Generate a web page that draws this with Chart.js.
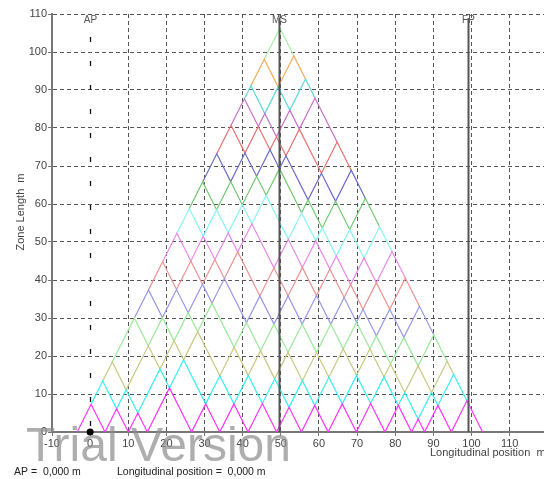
<!DOCTYPE html>
<html>
<head>
<meta charset="utf-8">
<script src="https://cdn.jsdelivr.net/npm/chart.js@4"></script>
<style>
  html, body { margin: 0; padding: 0; background: #fff; }
  #wrap { width: 544px; height: 479px; }
</style>
</head>
<body>
<div id="wrap"><canvas id="zones" width="544" height="479"></canvas></div>
<script>
var bulkheads = [-3.4, 3.9, 10.0, 15.0, 26.6, 34.0, 41.4, 48.9, 55.4, 62.4, 69.8, 77.3, 84.3, 87.7, 94.7, 102.9];
// one colour per zone layer (1 compartment, 2 compartments, ...)
var layerColors = ['#ff33ff', '#33f0f0', '#c8c880', '#99e899', '#9898e8', '#ec9090', '#e888e8', '#88f4f4',
                   '#70c870', '#6c6cc8', '#e87070', '#c870c8', '#5cd8d8', '#f8a850', '#a8eca8'];
var xTicks = [-10, 0, 10, 20, 30, 40, 50, 60, 70, 80, 90, 100, 110];
var yTicks = [0, 10, 20, 30, 40, 50, 60, 70, 80, 90, 100, 110];
var refLines = [{ label: 'AP', x: 0 }, { label: 'MS', x: 49.55 }, { label: 'FP', x: 99.1 }];

// zone between bulkhead i and j -> (centre, length)
function zonePoint(i, j) {
    return { x: (bulkheads[i] + bulkheads[j]) / 2, y: bulkheads[j] - bulkheads[i] };
}

var n = bulkheads.length - 1;
var datasets = [];
for (var k = 1; k <= n; k++) {
    var pts = [];
    for (var i = 0; i <= n - k; i++) {
        pts.push(zonePoint(i, i + k - 1));
        pts.push(zonePoint(i, i + k));
    }
    pts.push(zonePoint(n - k + 1, n));
    datasets.push({
        label: k + ' zone',
        data: pts,
        showLine: true,
        borderColor: layerColors[k - 1],
        borderWidth: 1.2,
        pointRadius: 0,
        tension: 0
    });
}

var tickFont = { family: '"Liberation Sans", Arial, sans-serif', size: 11 };

var overlay = {
    id: 'overlay',
    afterDatasetsDraw: function (chart) {
        var c = chart.ctx, a = chart.chartArea;
        var xs = chart.scales.x, ys = chart.scales.y;
        c.save();
        refLines.forEach(function (r) {
            var px = Math.round(xs.getPixelForValue(r.x)) + 0.5;
            c.beginPath();
            if (r.label === 'AP') {
                c.strokeStyle = '#111';
                c.lineWidth = 1.3;
                c.setLineDash([5, 19]);
                c.lineDashOffset = 5;
            } else {
                c.strokeStyle = '#555';
                c.lineWidth = 2;
                c.setLineDash([]);
            }
            c.moveTo(px, a.top + 4);
            c.lineTo(px, a.bottom);
            c.stroke();
            c.setLineDash([]);
            c.fillStyle = '#555';
            c.font = '10px "Liberation Sans", Arial, sans-serif';
            c.textAlign = 'center';
            c.textBaseline = 'middle';
            c.fillText(r.label, px, a.top + 6);
        });
        // origin marker
        c.fillStyle = '#000';
        c.beginPath();
        c.arc(xs.getPixelForValue(0), ys.getPixelForValue(0), 3.5, 0, Math.PI * 2);
        c.fill();

        // axis titles and status texts
        c.fillStyle = '#444';
        c.font = '11px "Liberation Sans", Arial, sans-serif';
        c.textBaseline = 'middle';
        c.save();
        c.translate(21, 212);
        c.rotate(-Math.PI / 2);
        c.textAlign = 'center';
        c.fillText('Zone Length  m', 0, 0);
        c.restore();
        c.textAlign = 'left';
        c.fillText('Longitudinal position  m', 430, 453);
        c.fillStyle = '#222';
        c.font = '10.5px "Liberation Sans", Arial, sans-serif';
        c.fillText('AP =  0,000 m', 14, 472);
        c.fillText('Longitudinal position =  0,000 m', 117, 472);

        // watermark
        c.fillStyle = 'rgba(140,140,140,0.7)';
        c.font = '48px "Liberation Sans", Arial, sans-serif';
        c.textBaseline = 'alphabetic';
        c.fillText('Trial Version', 26, 461);
        c.restore();
    }
};

var ctx = document.getElementById('zones').getContext('2d');
var zoneChart = new Chart(ctx, {
    type: 'scatter',
    data: { datasets: datasets },
    options: {
        responsive: false,
        animation: false,
        layout: { padding: { top: 14, right: 0, left: 0, bottom: 0 } },
        plugins: { legend: { display: false }, tooltip: { enabled: false } },
        scales: {
            x: {
                type: 'linear',
                min: -10,
                max: 119,
                afterBuildTicks: function (s) { s.ticks = xTicks.map(function (v) { return { value: v }; }); },
                afterFit: function (s) { s.height = 47; },
                ticks: { color: '#444', font: tickFont, padding: 1, maxRotation: 0, autoSkip: false },
                grid: {
                    color: function (g) { return g.tick && g.tick.value === 0 ? 'rgba(0,0,0,0)' : '#555'; },
                    lineWidth: 1,
                    tickLength: 4,
                    tickColor: '#777'
                },
                border: { display: true, color: '#777', width: 2, dash: [4, 3] }
            },
            y: {
                min: 0,
                max: 110,
                afterBuildTicks: function (s) { s.ticks = yTicks.map(function (v) { return { value: v }; }); },
                afterFit: function (s) { s.width = 52; },
                ticks: { color: '#444', font: tickFont, padding: 1 },
                grid: { color: '#555', lineWidth: 1, tickLength: 4, tickColor: '#777' },
                border: { display: true, color: '#777', width: 2, dash: [4, 3] }
            }
        }
    },
    plugins: [overlay]
});
</script>
</body>
</html>
